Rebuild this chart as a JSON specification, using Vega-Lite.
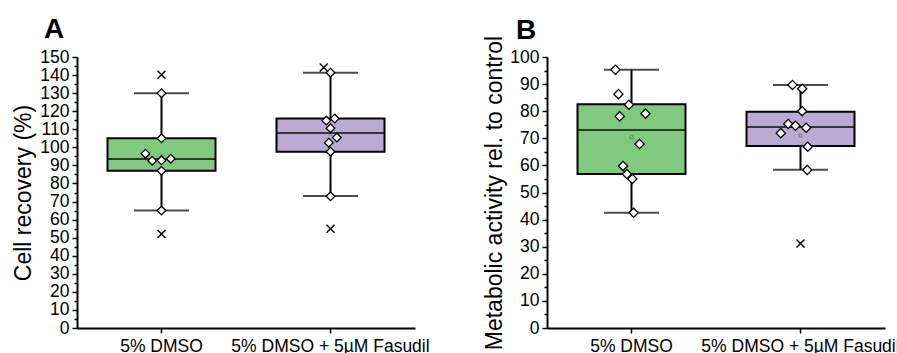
{
  "$schema": "https://vega.github.io/schema/vega-lite/v6.json",
  "padding": {"left": 12, "top": 16, "right": 0, "bottom": 0},
  "spacing": 53,
  "config": {
    "font": "Liberation Sans",
    "view": {"stroke": null},
    "axis": {"labelColor": "black", "titleColor": "black", "domainColor": "black", "tickColor": "black", "grid": false, "labelFontWeight": "normal", "titleFontWeight": "normal", "labelFontSize": 17.5, "titleFontSize": 23, "domainWidth": 2, "tickWidth": 1.5, "labelOverlap": false, "labelLimit": 0},
    "axisY": {"labelPadding": 3, "titlePadding": 4},
    "axisX": {"labelPadding": 4, "tickSize": 5, "labelAngle": 0}
  },
  "datasets": {
    "boxA": [
      {"group": "5% DMSO", "lower": 65, "q1": 87, "median": 93.6, "q3": 105, "upper": 130},
      {"group": "5% DMSO + 5µM Fasudil", "lower": 73, "q1": 97.6, "median": 108, "q3": 115.9, "upper": 141.3}
    ],
    "ptsA": [
      {"group": "5% DMSO", "value": 130, "jitter": 0},
      {"group": "5% DMSO", "value": 105, "jitter": 0},
      {"group": "5% DMSO", "value": 96.5, "jitter": -0.19},
      {"group": "5% DMSO", "value": 92.6, "jitter": -0.11},
      {"group": "5% DMSO", "value": 92.8, "jitter": 0},
      {"group": "5% DMSO", "value": 93.7, "jitter": 0.11},
      {"group": "5% DMSO", "value": 87, "jitter": 0},
      {"group": "5% DMSO", "value": 65, "jitter": 0},
      {"group": "5% DMSO + 5µM Fasudil", "value": 141.3, "jitter": 0},
      {"group": "5% DMSO + 5µM Fasudil", "value": 114.8, "jitter": -0.05},
      {"group": "5% DMSO + 5µM Fasudil", "value": 115.9, "jitter": 0.05},
      {"group": "5% DMSO + 5µM Fasudil", "value": 110.6, "jitter": 0},
      {"group": "5% DMSO + 5µM Fasudil", "value": 105.4, "jitter": 0.075},
      {"group": "5% DMSO + 5µM Fasudil", "value": 102.6, "jitter": -0.02},
      {"group": "5% DMSO + 5µM Fasudil", "value": 97.6, "jitter": 0},
      {"group": "5% DMSO + 5µM Fasudil", "value": 72.9, "jitter": 0}
    ],
    "outA": [
      {"group": "5% DMSO", "value": 140.2, "jitter": 0},
      {"group": "5% DMSO", "value": 52, "jitter": 0},
      {"group": "5% DMSO + 5µM Fasudil", "value": 144.2, "jitter": -0.08},
      {"group": "5% DMSO + 5µM Fasudil", "value": 54.9, "jitter": 0}
    ],
    "meanA": [
      {"group": "5% DMSO", "value": 95, "jitter": 0},
      {"group": "5% DMSO + 5µM Fasudil", "value": 107.6, "jitter": 0}
    ],
    "boxB": [
      {"group": "5% DMSO", "lower": 42.5, "q1": 56.8, "median": 73.1, "q3": 82.6, "upper": 95.3},
      {"group": "5% DMSO + 5µM Fasudil", "lower": 58.4, "q1": 67.2, "median": 74.2, "q3": 79.8, "upper": 89.7}
    ],
    "ptsB": [
      {"group": "5% DMSO", "value": 95.3, "jitter": -0.19},
      {"group": "5% DMSO", "value": 86.3, "jitter": -0.155},
      {"group": "5% DMSO", "value": 82.4, "jitter": -0.03},
      {"group": "5% DMSO", "value": 78.1, "jitter": -0.14},
      {"group": "5% DMSO", "value": 79.1, "jitter": 0.165},
      {"group": "5% DMSO", "value": 67.9, "jitter": 0.095},
      {"group": "5% DMSO", "value": 59.8, "jitter": -0.1},
      {"group": "5% DMSO", "value": 56.8, "jitter": -0.055},
      {"group": "5% DMSO", "value": 55.0, "jitter": 0.01},
      {"group": "5% DMSO", "value": 42.5, "jitter": 0.025},
      {"group": "5% DMSO + 5µM Fasudil", "value": 89.7, "jitter": -0.095},
      {"group": "5% DMSO + 5µM Fasudil", "value": 88.3, "jitter": 0.02},
      {"group": "5% DMSO + 5µM Fasudil", "value": 80.0, "jitter": 0.02},
      {"group": "5% DMSO + 5µM Fasudil", "value": 75.3, "jitter": -0.145},
      {"group": "5% DMSO + 5µM Fasudil", "value": 74.6, "jitter": -0.06},
      {"group": "5% DMSO + 5µM Fasudil", "value": 73.9, "jitter": 0.067},
      {"group": "5% DMSO + 5µM Fasudil", "value": 71.9, "jitter": -0.233},
      {"group": "5% DMSO + 5µM Fasudil", "value": 66.9, "jitter": 0.086},
      {"group": "5% DMSO + 5µM Fasudil", "value": 58.3, "jitter": 0.08}
    ],
    "outB": [
      {"group": "5% DMSO + 5µM Fasudil", "value": 31.2, "jitter": 0}
    ],
    "meanB": [
      {"group": "5% DMSO", "value": 70.4, "jitter": 0},
      {"group": "5% DMSO + 5µM Fasudil", "value": 71.0, "jitter": 0}
    ]
  },
  "hconcat": [
    {
      "width": 338,
      "height": 271,
      "title": {"text": "A", "anchor": "start", "frame": "group", "fontSize": 28, "fontWeight": "bold", "color": "black", "dx": -33, "offset": 4},
      "encoding": {
        "x": {"field": "group", "type": "nominal", "sort": null,
          "scale": {"type": "band", "domain": ["5% DMSO", "5% DMSO + 5µM Fasudil"], "paddingInner": 0, "paddingOuter": 0},
          "axis": {"title": null}}
      },
      "layer": [
        {"data": {"name": "boxA"}, "mark": {"type": "rule", "color": "black", "strokeWidth": 2},
          "encoding": {
            "y": {"field": "lower", "type": "quantitative", "scale": {"domain": [0, 150], "nice": false},
              "axis": {"title": "Cell recovery (%)", "values": [0,5,10,15,20,25,30,35,40,45,50,55,60,65,70,75,80,85,90,95,100,105,110,115,120,125,130,135,140,145,150], "labelExpr": "datum.value % 10 === 0 ? datum.label : ''", "tickSize": {"condition": {"test": "datum.value % 10 === 0", "value": 5}, "value": 3}}},
            "y2": {"field": "upper"}}},
        {"data": {"name": "boxA"}, "mark": {"type": "tick", "color": "black", "size": 55, "thickness": 2, "orient": "horizontal"},
          "encoding": {"y": {"field": "lower", "type": "quantitative", "scale": {"domain": [0, 150], "nice": false},
              "axis": {"title": "Cell recovery (%)", "values": [0,5,10,15,20,25,30,35,40,45,50,55,60,65,70,75,80,85,90,95,100,105,110,115,120,125,130,135,140,145,150], "labelExpr": "datum.value % 10 === 0 ? datum.label : ''", "tickSize": {"condition": {"test": "datum.value % 10 === 0", "value": 5}, "value": 3}}}}},
        {"data": {"name": "boxA"}, "mark": {"type": "tick", "color": "black", "size": 55, "thickness": 2, "orient": "horizontal"},
          "encoding": {"y": {"field": "upper", "type": "quantitative", "scale": {"domain": [0, 150], "nice": false},
              "axis": {"title": "Cell recovery (%)", "values": [0,5,10,15,20,25,30,35,40,45,50,55,60,65,70,75,80,85,90,95,100,105,110,115,120,125,130,135,140,145,150], "labelExpr": "datum.value % 10 === 0 ? datum.label : ''", "tickSize": {"condition": {"test": "datum.value % 10 === 0", "value": 5}, "value": 3}}}}},
        {"data": {"name": "boxA"}, "mark": {"type": "bar", "size": 108, "stroke": "black", "strokeWidth": 2},
          "encoding": {"y": {"field": "q1", "type": "quantitative", "scale": {"domain": [0, 150], "nice": false},
              "axis": {"title": "Cell recovery (%)", "values": [0,5,10,15,20,25,30,35,40,45,50,55,60,65,70,75,80,85,90,95,100,105,110,115,120,125,130,135,140,145,150], "labelExpr": "datum.value % 10 === 0 ? datum.label : ''", "tickSize": {"condition": {"test": "datum.value % 10 === 0", "value": 5}, "value": 3}}},
            "y2": {"field": "q3"},
            "fill": {"field": "group", "type": "nominal", "scale": {"domain": ["5% DMSO", "5% DMSO + 5µM Fasudil"], "range": ["#80c97f", "#bbaad4"]}, "legend": null}}},
        {"data": {"name": "boxA"}, "mark": {"type": "tick", "color": "black", "size": 108, "thickness": 2, "orient": "horizontal"},
          "encoding": {"y": {"field": "median", "type": "quantitative", "scale": {"domain": [0, 150], "nice": false},
              "axis": {"title": "Cell recovery (%)", "values": [0,5,10,15,20,25,30,35,40,45,50,55,60,65,70,75,80,85,90,95,100,105,110,115,120,125,130,135,140,145,150], "labelExpr": "datum.value % 10 === 0 ? datum.label : ''", "tickSize": {"condition": {"test": "datum.value % 10 === 0", "value": 5}, "value": 3}}}}},
        {"data": {"name": "meanA"}, "mark": {"type": "point", "shape": "square", "size": 9, "filled": false, "stroke": "#555555", "strokeWidth": 0.8},
          "encoding": {"y": {"field": "value", "type": "quantitative", "scale": {"domain": [0, 150], "nice": false},
              "axis": {"title": "Cell recovery (%)", "values": [0,5,10,15,20,25,30,35,40,45,50,55,60,65,70,75,80,85,90,95,100,105,110,115,120,125,130,135,140,145,150], "labelExpr": "datum.value % 10 === 0 ? datum.label : ''", "tickSize": {"condition": {"test": "datum.value % 10 === 0", "value": 5}, "value": 3}}},
            "xOffset": {"field": "jitter", "type": "quantitative", "scale": {"domain": [-1, 1]}}}},
        {"data": {"name": "ptsA"}, "mark": {"type": "point", "shape": "diamond", "size": 75, "filled": true, "fill": "white", "stroke": "black", "strokeWidth": 1.3, "opacity": 1},
          "encoding": {"y": {"field": "value", "type": "quantitative", "scale": {"domain": [0, 150], "nice": false},
              "axis": {"title": "Cell recovery (%)", "values": [0,5,10,15,20,25,30,35,40,45,50,55,60,65,70,75,80,85,90,95,100,105,110,115,120,125,130,135,140,145,150], "labelExpr": "datum.value % 10 === 0 ? datum.label : ''", "tickSize": {"condition": {"test": "datum.value % 10 === 0", "value": 5}, "value": 3}}},
            "xOffset": {"field": "jitter", "type": "quantitative", "scale": {"domain": [-1, 1]}}}},
        {"data": {"name": "outA"}, "mark": {"type": "point", "shape": "M-1,-1L1,1M1,-1L-1,1", "size": 64, "filled": false, "stroke": "black", "strokeWidth": 1.5, "opacity": 1},
          "encoding": {"y": {"field": "value", "type": "quantitative", "scale": {"domain": [0, 150], "nice": false},
              "axis": {"title": "Cell recovery (%)", "values": [0,5,10,15,20,25,30,35,40,45,50,55,60,65,70,75,80,85,90,95,100,105,110,115,120,125,130,135,140,145,150], "labelExpr": "datum.value % 10 === 0 ? datum.label : ''", "tickSize": {"condition": {"test": "datum.value % 10 === 0", "value": 5}, "value": 3}}},
            "xOffset": {"field": "jitter", "type": "quantitative", "scale": {"domain": [-1, 1]}}}}
      ]
    },
    {
      "width": 338,
      "height": 271,
      "title": {"text": "B", "anchor": "start", "frame": "group", "fontSize": 28, "fontWeight": "bold", "color": "black", "dx": -31, "offset": -10},
      "encoding": {
        "x": {"field": "group", "type": "nominal", "sort": null,
          "scale": {"type": "band", "domain": ["5% DMSO", "5% DMSO + 5µM Fasudil"], "paddingInner": 0, "paddingOuter": 0},
          "axis": {"title": null}}
      },
      "layer": [
        {"data": {"name": "boxB"}, "mark": {"type": "rule", "color": "black", "strokeWidth": 2},
          "encoding": {
            "y": {"field": "lower", "type": "quantitative", "scale": {"domain": [0, 100], "nice": false},
              "axis": {"title": "Metabolic activity rel. to control", "titlePadding": 3, "values": [0,5,10,15,20,25,30,35,40,45,50,55,60,65,70,75,80,85,90,95,100], "labelExpr": "datum.value % 10 === 0 ? datum.label : ''", "tickSize": {"condition": {"test": "datum.value % 10 === 0", "value": 5}, "value": 3}}},
            "y2": {"field": "upper"}}},
        {"data": {"name": "boxB"}, "mark": {"type": "tick", "color": "black", "size": 55, "thickness": 2, "orient": "horizontal"},
          "encoding": {"y": {"field": "lower", "type": "quantitative", "scale": {"domain": [0, 100], "nice": false},
              "axis": {"title": "Metabolic activity rel. to control", "titlePadding": 3, "values": [0,5,10,15,20,25,30,35,40,45,50,55,60,65,70,75,80,85,90,95,100], "labelExpr": "datum.value % 10 === 0 ? datum.label : ''", "tickSize": {"condition": {"test": "datum.value % 10 === 0", "value": 5}, "value": 3}}}}},
        {"data": {"name": "boxB"}, "mark": {"type": "tick", "color": "black", "size": 55, "thickness": 2, "orient": "horizontal"},
          "encoding": {"y": {"field": "upper", "type": "quantitative", "scale": {"domain": [0, 100], "nice": false},
              "axis": {"title": "Metabolic activity rel. to control", "titlePadding": 3, "values": [0,5,10,15,20,25,30,35,40,45,50,55,60,65,70,75,80,85,90,95,100], "labelExpr": "datum.value % 10 === 0 ? datum.label : ''", "tickSize": {"condition": {"test": "datum.value % 10 === 0", "value": 5}, "value": 3}}}}},
        {"data": {"name": "boxB"}, "mark": {"type": "bar", "size": 108, "stroke": "black", "strokeWidth": 2},
          "encoding": {"y": {"field": "q1", "type": "quantitative", "scale": {"domain": [0, 100], "nice": false},
              "axis": {"title": "Metabolic activity rel. to control", "titlePadding": 3, "values": [0,5,10,15,20,25,30,35,40,45,50,55,60,65,70,75,80,85,90,95,100], "labelExpr": "datum.value % 10 === 0 ? datum.label : ''", "tickSize": {"condition": {"test": "datum.value % 10 === 0", "value": 5}, "value": 3}}},
            "y2": {"field": "q3"},
            "fill": {"field": "group", "type": "nominal", "scale": {"domain": ["5% DMSO", "5% DMSO + 5µM Fasudil"], "range": ["#80c97f", "#bbaad4"]}, "legend": null}}},
        {"data": {"name": "boxB"}, "mark": {"type": "tick", "color": "black", "size": 108, "thickness": 2, "orient": "horizontal"},
          "encoding": {"y": {"field": "median", "type": "quantitative", "scale": {"domain": [0, 100], "nice": false},
              "axis": {"title": "Metabolic activity rel. to control", "titlePadding": 3, "values": [0,5,10,15,20,25,30,35,40,45,50,55,60,65,70,75,80,85,90,95,100], "labelExpr": "datum.value % 10 === 0 ? datum.label : ''", "tickSize": {"condition": {"test": "datum.value % 10 === 0", "value": 5}, "value": 3}}}}},
        {"data": {"name": "meanB"}, "mark": {"type": "point", "shape": "square", "size": 9, "filled": false, "stroke": "#555555", "strokeWidth": 0.8},
          "encoding": {"y": {"field": "value", "type": "quantitative", "scale": {"domain": [0, 100], "nice": false},
              "axis": {"title": "Metabolic activity rel. to control", "titlePadding": 3, "values": [0,5,10,15,20,25,30,35,40,45,50,55,60,65,70,75,80,85,90,95,100], "labelExpr": "datum.value % 10 === 0 ? datum.label : ''", "tickSize": {"condition": {"test": "datum.value % 10 === 0", "value": 5}, "value": 3}}},
            "xOffset": {"field": "jitter", "type": "quantitative", "scale": {"domain": [-1, 1]}}}},
        {"data": {"name": "ptsB"}, "mark": {"type": "point", "shape": "diamond", "size": 85, "filled": true, "fill": "white", "stroke": "black", "strokeWidth": 1.3, "opacity": 1},
          "encoding": {"y": {"field": "value", "type": "quantitative", "scale": {"domain": [0, 100], "nice": false},
              "axis": {"title": "Metabolic activity rel. to control", "titlePadding": 3, "values": [0,5,10,15,20,25,30,35,40,45,50,55,60,65,70,75,80,85,90,95,100], "labelExpr": "datum.value % 10 === 0 ? datum.label : ''", "tickSize": {"condition": {"test": "datum.value % 10 === 0", "value": 5}, "value": 3}}},
            "xOffset": {"field": "jitter", "type": "quantitative", "scale": {"domain": [-1, 1]}}}},
        {"data": {"name": "outB"}, "mark": {"type": "point", "shape": "M-1,-1L1,1M1,-1L-1,1", "size": 64, "filled": false, "stroke": "black", "strokeWidth": 1.5, "opacity": 1},
          "encoding": {"y": {"field": "value", "type": "quantitative", "scale": {"domain": [0, 100], "nice": false},
              "axis": {"title": "Metabolic activity rel. to control", "titlePadding": 3, "values": [0,5,10,15,20,25,30,35,40,45,50,55,60,65,70,75,80,85,90,95,100], "labelExpr": "datum.value % 10 === 0 ? datum.label : ''", "tickSize": {"condition": {"test": "datum.value % 10 === 0", "value": 5}, "value": 3}}},
            "xOffset": {"field": "jitter", "type": "quantitative", "scale": {"domain": [-1, 1]}}}}
      ]
    }
  ]
}
